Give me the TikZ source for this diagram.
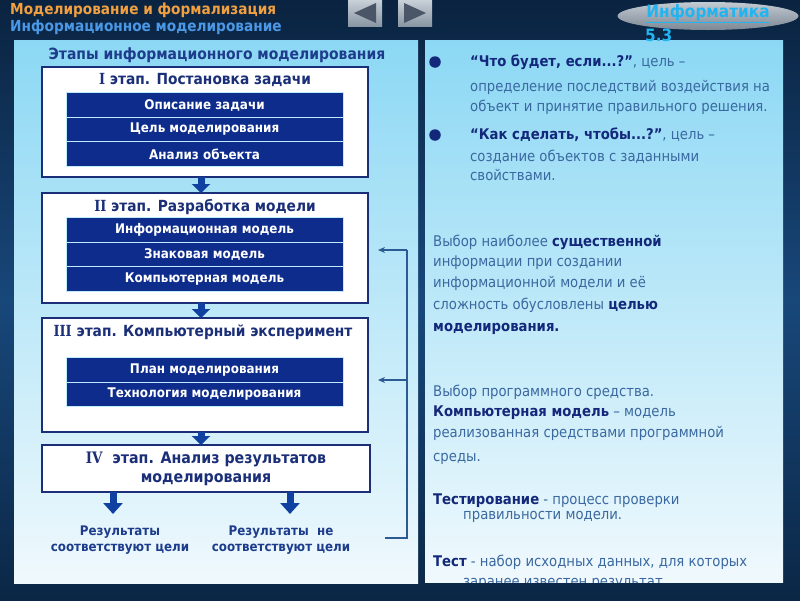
\documentclass[tikz,border=0pt]{standalone}
\usepackage{fontspec}
\setmainfont{DejaVu Sans}[FakeStretch=0.9]
\newfontfamily\numfont{DejaVu Serif}[FakeStretch=0.85]
\usetikzlibrary{arrows.meta,calc,shapes.geometric}
\definecolor{bgtop}{HTML}{0A2340}
\definecolor{bgmid}{HTML}{18477A}
\definecolor{bgbot}{HTML}{0B2746}
\definecolor{paneltop}{HTML}{8CD8F4}
\definecolor{panelbot}{HTML}{F0F9FD}
\definecolor{barblue}{HTML}{0E2C8C}
\definecolor{edgeblue}{HTML}{1B2F78}
\definecolor{titleblue}{HTML}{1D3C8C}
\definecolor{arrowblue}{HTML}{1040A0}
\definecolor{fbblue}{HTML}{2C5A92}
\definecolor{bodytext}{HTML}{3A68A0}
\definecolor{boldnavy}{HTML}{13287A}
\definecolor{hdrorange}{HTML}{F0A040}
\definecolor{hdrblue}{HTML}{4A98E6}
\definecolor{linkcyan}{HTML}{22B4F0}
\definecolor{btnlight}{HTML}{C8D0D8}
\definecolor{btndark}{HTML}{8A96A4}
\definecolor{tridark}{HTML}{4A5668}
\definecolor{ellight}{HTML}{C2CAD2}
\definecolor{eldark}{HTML}{7D8894}
\newcommand\myfs[2]{\fontsize{#1}{#2}\selectfont}
\newcommand\bn[1]{\textcolor{boldnavy}{\bfseries #1}}
\newcommand\rn[1]{{\numfont\bfseries #1}}
\begin{document}
\begin{tikzpicture}[x=1pt,y=-1pt,
  stagebox/.style={draw=edgeblue,line width=2pt,fill=white,inner sep=0pt},
  bar/.style={fill=barblue,draw=white!75!cyan,line width=0.8pt,minimum width=277pt,minimum height=24.5pt,inner sep=0pt,text=white,font=\bfseries\myfs{13.3}{15}},
  stagetitle/.style={text=edgeblue,font=\bfseries\myfs{15.3}{17},inner sep=0pt},
  bigarrow/.style={arrowblue,line width=7pt,-{Triangle[width=18pt,length=9pt]}},
  endarrow/.style={arrowblue,line width=7pt,-{Triangle[width=19pt,length=11pt]}},
  fbline/.style={fbblue,line width=1.2pt},
  body/.style={anchor=base west,inner sep=0pt,text=bodytext,font=\myfs{14.7}{17}},
  reslabel/.style={text=titleblue,font=\bfseries\myfs{13.2}{16},align=center,inner sep=0pt},
  btn/.style={minimum width=34pt,minimum height=26pt,top color=btnlight,bottom color=btndark,inner sep=0pt},
  bulletdot/.style={circle,fill=boldnavy,minimum size=11.5pt,inner sep=0pt}
]
\useasboundingbox (0,0) rectangle (800,600);
% background
\shade[top color=bgtop,bottom color=bgbot,middle color=bgmid] (0,0) rectangle (800,600);
% header
\node[anchor=west,inner sep=0pt,text=hdrorange,font=\bfseries\myfs{15.2}{17}] (h1) at (10,10) {Моделирование и формализация};
\node[anchor=west,inner sep=0pt,text=hdrblue,font=\bfseries\myfs{15.2}{17}] (h2) at (10,27) {Информационное моделирование};
\node[btn] (prev) at (365,13) {};
\fill[tridark] (354,13) -- (376,3) -- (376,23) -- cycle;
\node[btn] (next) at (415,13) {};
\fill[tridark] (426,13) -- (404,3) -- (404,23) -- cycle;
\node[ellipse,minimum width=181pt,minimum height=28pt,top color=ellight,bottom color=eldark,inner sep=0pt] (logo) at (708,16) {};
\node[text=linkcyan,font=\bfseries\myfs{17}{19},inner sep=0pt] (logot) at (708,14) {\underline{Информатика}};
% panels
\shade[top color=paneltop,bottom color=panelbot] (14,40) rectangle (418,583);
\shade[top color=paneltop,bottom color=panelbot] (425,40) rectangle (783,582);
\node[anchor=west,text=linkcyan,font=\bfseries\myfs{17}{19},inner sep=0pt] (sec) at (645,35) {5.3};
% left panel
\node[text=titleblue,font=\bfseries\myfs{15.5}{17},inner sep=0pt] (ltitle) at (217,55) {Этапы информационного моделирования};
% stage I
\node[stagebox,minimum width=326pt,minimum height=110pt] (s1) at (205,122) {};
\node[stagetitle] (s1t) at (205,80) {\rn{I} этап. Постановка задачи};
\node[bar] (b11) at (204.5,105) {Описание задачи};
\node[bar] (b12) at (204.5,129.5) {Цель моделирования};
\node[bar] (b13) at (204.5,154) {Анализ объекта};
% stage II
\node[stagebox,minimum width=326pt,minimum height=110pt] (s2) at (205,248) {};
\node[stagetitle] (s2t) at (205,207) {\rn{II} этап. Разработка модели};
\node[bar] (b21) at (204.5,230) {Информационная модель};
\node[bar] (b22) at (204.5,254.5) {Знаковая модель};
\node[bar] (b23) at (204.5,279) {Компьютерная модель};
% stage III
\node[stagebox,minimum width=326pt,minimum height=114pt] (s3) at (205,375) {};
\node[stagetitle] (s3t) at (203,332) {\rn{III} этап. Компьютерный эксперимент};
\node[bar] (b31) at (204.5,370) {План моделирования};
\node[bar] (b32) at (204.5,394.5) {Технология моделирования};
% stage IV
\node[stagebox,minimum width=328pt,minimum height=47pt,align=center,text=edgeblue,font=\bfseries\myfs{15.8}{19}] (s4) at (206,468.5) {\rn{IV}\ \ этап. Анализ результатов\\моделирования};
% arrows between stages
\draw[bigarrow] ($(s1.south)+(-4,-1)$) -- ($(s2.north)+(-4,1)$);
\draw[bigarrow] ($(s2.south)+(-4,-1)$) -- ($(s3.north)+(-4,1)$);
\draw[bigarrow] ($(s3.south)+(-4,-1)$) -- ($(s4.north)+(-5,1)$);
% results
\node[reslabel] (r1) at (120,540) {Результаты\\соответствуют цели};
\node[reslabel] (r2) at (281,540) {Результаты\ \ не\\соответствуют цели};
\draw[endarrow] ($(s4.south)+(-93,-1)$) -- ($(s4.south)+(-93,21)$);
\draw[endarrow] ($(s4.south)+(84,-1)$) -- ($(s4.south)+(84,21)$);
% feedback
\coordinate (fb0) at (385,538);
\coordinate (fbA) at (407,250);
\coordinate (fbB) at (407,380);
\draw[fbline] (fb0) -| (fbA);
\draw[fbline,-{Stealth[length=7pt,width=6pt]}] (fbA) -- ($(fbA -| s2.east)+(9,0)$);
\draw[fbline,-{Stealth[length=7pt,width=6pt]}] (fbB) -- ($(fbB -| s3.east)+(9,0)$);
% right panel
\node[bulletdot] (d1) at (435,62) {};
\node[body] (p1a) at (470,66.5) {\bn{“Что будет, если...?”}, цель –};
\node[body] (p1b) at (470,91.5) {определение последствий воздействия на};
\node[body] (p1c) at (470,111.5) {объект и принятие правильного решения.};
\node[bulletdot] (d2) at (435,135) {};
\node[body] (p2a) at (470,139.5) {\bn{“Как сделать, чтобы...?”}, цель –};
\node[body] (p2b) at (470,161.5) {создание объектов с заданными};
\node[body] (p2c) at (470,180.5) {свойствами.};
\node[body] (p3a) at (433,246.5) {Выбор наиболее \bn{существенной}};
\node[body] (p3b) at (433,266.5) {информации при создании};
\node[body] (p3c) at (433,287.5) {информационной модели и её};
\node[body] (p3d) at (433,309.5) {сложность обусловлены \bn{целью}};
\node[body] (p3e) at (433,331.5) {\bn{моделирования.}};
\node[body] (p4a) at (433,396.5) {Выбор программного средства.};
\node[body] (p4b) at (433,416.5) {\bn{Компьютерная модель} – модель};
\node[body] (p4c) at (433,437.5) {реализованная средствами программной};
\node[body] (p4d) at (433,461.5) {среды.};
\node[body] (p5a) at (433,504.5) {\bn{Тестирование} - процесс проверки};
\node[body] (p5b) at (463,519.5) {правильности модели.};
\node[body] (p6a) at (433,566.5) {\bn{Тест} - набор исходных данных, для которых};
\begin{scope}
\clip (425,40) rectangle (783,582);
\node[body] (p6b) at (463,586) {заранее известен результат.};
\end{scope}
\end{tikzpicture}
\end{document}
